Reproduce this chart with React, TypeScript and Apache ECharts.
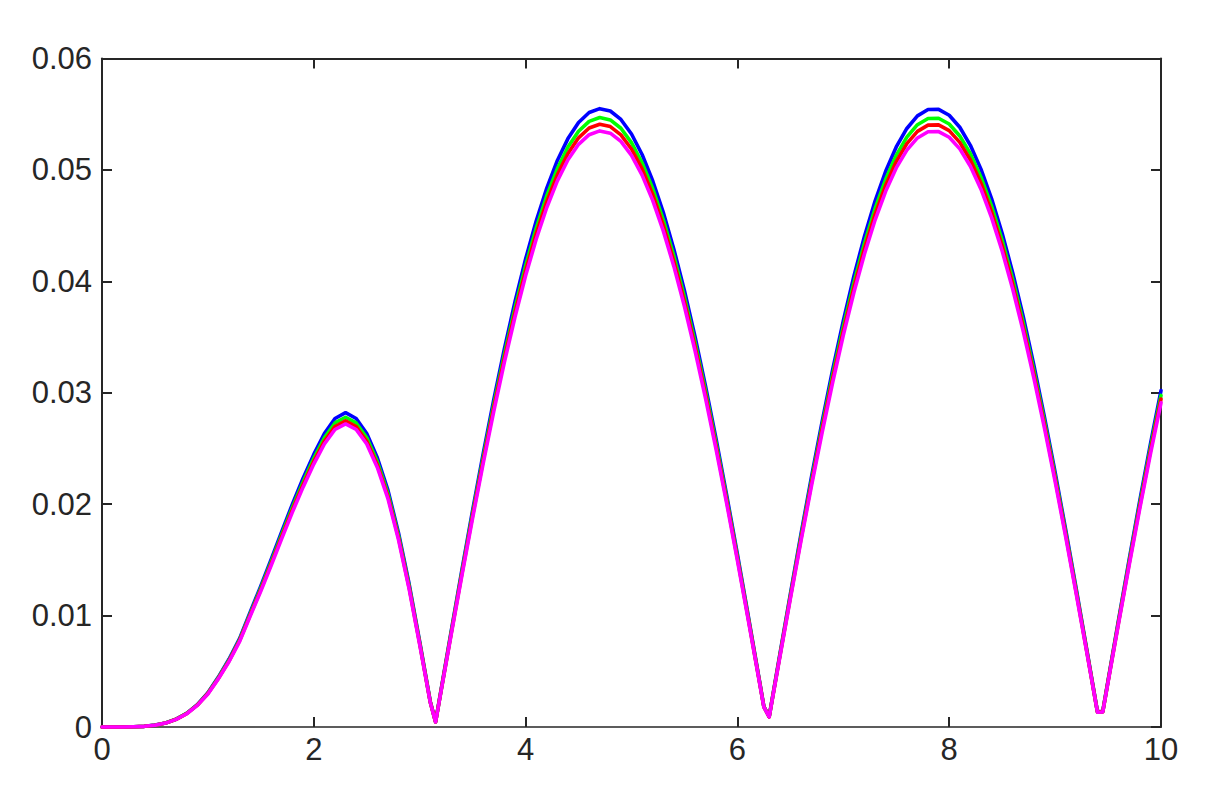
import React, { useEffect, useRef } from "react";
import * as echarts from "echarts";

const xs = [
  0, 0.1, 0.2, 0.3, 0.4, 0.5, 0.6, 0.7, 0.8, 0.9,
  1.0, 1.1, 1.2, 1.3, 1.4, 1.5, 1.6, 1.7, 1.8, 1.9,
  2.0, 2.1, 2.2, 2.3, 2.4, 2.5, 2.6, 2.7, 2.8, 2.9,
  3.0, 3.1, 3.15, 3.2, 3.3, 3.4, 3.5, 3.6, 3.7, 3.8, 3.9,
  4.0, 4.1, 4.2, 4.3, 4.4, 4.5, 4.6, 4.7, 4.8, 4.9,
  5.0, 5.1, 5.2, 5.3, 5.4, 5.5, 5.6, 5.7, 5.8, 5.9,
  6.0, 6.1, 6.2, 6.25, 6.3, 6.4, 6.5, 6.6, 6.7, 6.8, 6.9,
  7.0, 7.1, 7.2, 7.3, 7.4, 7.5, 7.6, 7.7, 7.8, 7.9,
  8.0, 8.1, 8.2, 8.3, 8.4, 8.5, 8.6, 8.7, 8.8, 8.9,
  9.0, 9.1, 9.2, 9.3, 9.4, 9.45, 9.5, 9.6, 9.7, 9.8, 9.9,
  10.0,
];

const blue = [
  0, 0, 0, 0.00002, 0.00006, 0.00017, 0.00036, 0.00071, 0.00123, 0.00201,
  0.00308, 0.0045, 0.0061, 0.00796, 0.01033, 0.01266, 0.0151, 0.01761, 0.02005, 0.02235,
  0.02447, 0.02634, 0.02769, 0.02821, 0.02769, 0.02634, 0.02416, 0.02126, 0.01742, 0.01286,
  0.00767, 0.00228, 0.00047, 0.00324, 0.00875, 0.01418, 0.01947, 0.02456, 0.0294, 0.03396, 0.03817,
  0.042, 0.04542, 0.04837, 0.05085, 0.05281, 0.05425, 0.05515, 0.0555, 0.05529, 0.05453,
  0.05322, 0.05138, 0.04903, 0.04619, 0.04289, 0.03916, 0.03504, 0.03056, 0.02579, 0.02075,
  0.01551, 0.01011, 0.00461, 0.00184, 0.00093, 0.00647, 0.01194, 0.01729, 0.02247, 0.02742, 0.0321,
  0.03646, 0.04046, 0.04405, 0.0472, 0.04988, 0.05206, 0.05372, 0.05485, 0.05542, 0.05544,
  0.05491, 0.05383, 0.05221, 0.05007, 0.04743, 0.04432, 0.04076, 0.0368, 0.03246, 0.0278,
  0.02287, 0.01771, 0.01237, 0.00691, 0.00138, 0.0014, 0.00417, 0.00967, 0.01508, 0.02034, 0.02539,
  0.03019,
];

const green = [
  0, 0, 0, 0.00002, 0.00006, 0.00016, 0.00036, 0.0007, 0.00122, 0.00198,
  0.00304, 0.00444, 0.00601, 0.00785, 0.01018, 0.01248, 0.01488, 0.01735, 0.01976, 0.02202,
  0.02412, 0.02596, 0.02729, 0.0278, 0.02729, 0.02596, 0.02381, 0.02095, 0.01717, 0.01267,
  0.00756, 0.00225, 0.00046, 0.00319, 0.00863, 0.01398, 0.01919, 0.0242, 0.02898, 0.03347, 0.03762,
  0.0414, 0.04476, 0.04768, 0.05012, 0.05205, 0.05347, 0.05436, 0.0547, 0.05449, 0.05374,
  0.05245, 0.05064, 0.04833, 0.04553, 0.04227, 0.03859, 0.03453, 0.03012, 0.02541, 0.02045,
  0.01528, 0.00997, 0.00455, 0.00182, 0.00092, 0.00637, 0.01177, 0.01704, 0.02214, 0.02703, 0.03164,
  0.03594, 0.03988, 0.04342, 0.04652, 0.04916, 0.05131, 0.05294, 0.05406, 0.05462, 0.05464,
  0.05412, 0.05305, 0.05146, 0.04935, 0.04675, 0.04368, 0.04017, 0.03627, 0.03199, 0.0274,
  0.02254, 0.01745, 0.01219, 0.00681, 0.00136, 0.00138, 0.00411, 0.00953, 0.01487, 0.02005, 0.02503,
  0.02976,
];

const red = [
  0, 0, 0, 0.00002, 0.00006, 0.00016, 0.00035, 0.00069, 0.0012, 0.00196,
  0.003, 0.00438, 0.00594, 0.00776, 0.01006, 0.01233, 0.01471, 0.01715, 0.01952, 0.02177,
  0.02384, 0.02565, 0.02697, 0.02747, 0.02697, 0.02565, 0.02353, 0.0207, 0.01697, 0.01252,
  0.00747, 0.00222, 0.00045, 0.00316, 0.00853, 0.01382, 0.01898, 0.02394, 0.02866, 0.0331, 0.03721,
  0.04094, 0.04427, 0.04715, 0.04956, 0.05148, 0.05288, 0.05376, 0.0541, 0.05389, 0.05315,
  0.05188, 0.05009, 0.0478, 0.04503, 0.04181, 0.03817, 0.03415, 0.02979, 0.02513, 0.02023,
  0.01512, 0.00986, 0.0045, 0.0018, 0.00091, 0.0063, 0.01164, 0.01685, 0.0219, 0.02673, 0.03129,
  0.03554, 0.03944, 0.04294, 0.04601, 0.04862, 0.05075, 0.05236, 0.05346, 0.05402, 0.05404,
  0.05353, 0.05247, 0.05089, 0.04881, 0.04623, 0.0432, 0.03973, 0.03587, 0.03164, 0.0271,
  0.02229, 0.01726, 0.01206, 0.00674, 0.00134, 0.00136, 0.00407, 0.00943, 0.0147, 0.01983, 0.02475,
  0.02943,
];

const magenta = [
  0, 0, 0, 0.00002, 0.00006, 0.00016, 0.00035, 0.00068, 0.00119, 0.00194,
  0.00297, 0.00434, 0.00588, 0.00768, 0.00996, 0.01221, 0.01456, 0.01698, 0.01933, 0.02155,
  0.0236, 0.0254, 0.0267, 0.0272, 0.0267, 0.0254, 0.0233, 0.0205, 0.0168, 0.0124,
  0.0074, 0.0022, 0.00045, 0.00312, 0.00844, 0.01367, 0.01877, 0.02367, 0.02834, 0.03274, 0.0368,
  0.04049, 0.04378, 0.04663, 0.04902, 0.05091, 0.0523, 0.05316, 0.0535, 0.0533, 0.05256,
  0.0513, 0.04953, 0.04727, 0.04453, 0.04134, 0.03774, 0.03377, 0.02946, 0.02486, 0.02,
  0.01495, 0.00975, 0.00445, 0.00178, 0.0009, 0.00623, 0.01151, 0.01667, 0.02166, 0.02643, 0.03094,
  0.03515, 0.039, 0.04246, 0.0455, 0.04808, 0.05018, 0.05178, 0.05287, 0.05342, 0.05344,
  0.05293, 0.05189, 0.05033, 0.04827, 0.04572, 0.04272, 0.03929, 0.03547, 0.03129, 0.0268,
  0.02205, 0.01707, 0.01192, 0.00666, 0.00133, 0.00135, 0.00402, 0.00933, 0.01454, 0.01961, 0.02448,
  0.0291,
];

const xTickLabels = ["0", "2", "4", "6", "8", "10"];
const yTickLabels = ["0", "0.01", "0.02", "0.03", "0.04", "0.05", "0.06"];

const seriesDefs = [
  { name: "blue", values: blue, color: "#0000ff" },
  { name: "green", values: green, color: "#00ff00" },
  { name: "red", values: red, color: "#ff0000" },
  { name: "magenta", values: magenta, color: "#ff00ff" },
];

const AXIS_COLOR = "#262626";
const FONT = "'Liberation Sans', Arial, Helvetica, sans-serif";

export default function App() {
  const ref = useRef<HTMLDivElement>(null);

  useEffect(() => {
    if (!ref.current) return;
    const chart = echarts.init(ref.current, null, { renderer: "svg" });

    const xLabel = (v: number) => {
      const i = Math.round(v / 2);
      return xTickLabels[i] ?? String(v);
    };
    const yLabel = (v: number) => {
      const i = Math.round(v / 0.01);
      return yTickLabels[i] ?? String(v);
    };

    const baseX = {
      type: "value" as const,
      min: 0,
      max: 10,
      interval: 2,
      splitLine: { show: false },
    };
    const baseY = {
      type: "value" as const,
      min: 0,
      max: 0.06,
      interval: 0.01,
      splitLine: { show: false },
    };

    chart.setOption({
      animation: false,
      backgroundColor: "#ffffff",
      grid: { left: 102, right: 45, top: 58.5, bottom: 64, containLabel: false },
      xAxis: [
        {
          ...baseX,
          position: "bottom",
          axisLine: { show: true, onZero: false, lineStyle: { color: AXIS_COLOR, width: 1.5 } },
          axisTick: { show: true, inside: true, length: 10, lineStyle: { color: AXIS_COLOR, width: 2 } },
          axisLabel: {
            show: true,
            margin: 7,
            color: AXIS_COLOR,
            fontSize: 31,
            fontFamily: FONT,
            formatter: xLabel,
          },
        },
        {
          ...baseX,
          position: "top",
          axisLine: { show: true, onZero: false, lineStyle: { color: AXIS_COLOR, width: 2 } },
          axisTick: { show: true, inside: true, length: 10, lineStyle: { color: AXIS_COLOR, width: 2 } },
          axisLabel: { show: false },
        },
      ],
      yAxis: [
        {
          ...baseY,
          position: "left",
          axisLine: { show: true, onZero: false, lineStyle: { color: AXIS_COLOR, width: 2 } },
          axisTick: { show: true, inside: true, length: 10, lineStyle: { color: AXIS_COLOR, width: 2 } },
          axisLabel: {
            show: true,
            margin: 10,
            color: AXIS_COLOR,
            fontSize: 31,
            fontFamily: FONT,
            formatter: yLabel,
            padding: [0, 0, 4, 0],
          },
        },
        {
          ...baseY,
          position: "right",
          axisLine: { show: true, onZero: false, lineStyle: { color: AXIS_COLOR, width: 2 } },
          axisTick: { show: true, inside: true, length: 10, lineStyle: { color: AXIS_COLOR, width: 2 } },
          axisLabel: { show: false },
        },
      ],
      series: seriesDefs.map((s) => ({
        name: s.name,
        type: "line",
        xAxisIndex: 0,
        yAxisIndex: 0,
        showSymbol: false,
        symbol: "none",
        smooth: false,
        clip: false,
        lineStyle: { color: s.color, width: 3.6, join: "round", cap: "round" },
        itemStyle: { color: s.color },
        data: xs.map((x, i) => [x, s.values[i]]),
      })),
    });

    return () => chart.dispose();
  }, []);

  return (
    <div
      ref={ref}
      style={{ position: "fixed", left: 0, top: 0, width: 1206, height: 791, background: "#fff" }}
    />
  );
}
